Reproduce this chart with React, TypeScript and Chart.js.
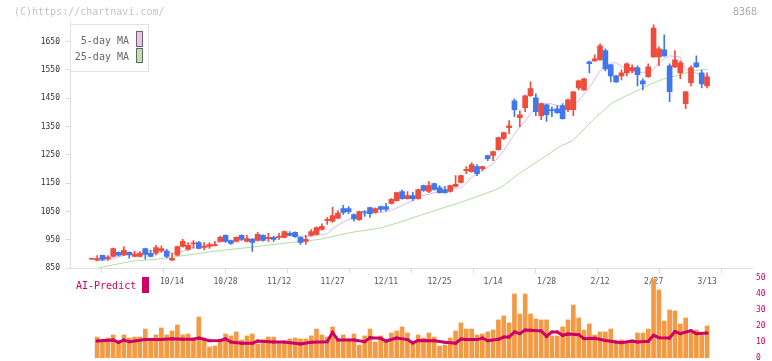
import React, { useEffect, useRef } from "react";
import { Chart, registerables } from "chart.js";
Chart.register(...registerables);

const dateLabels = ["10/14", "10/28", "11/12", "11/27", "12/11", "12/25", "1/14", "1/28", "2/12", "2/27", "3/13"];
const dateLabelIdx = [15, 25, 35, 45, 55, 65, 75, 85, 95, 105, 115];
const priceTicks = [850, 950, 1050, 1150, 1250, 1350, 1450, 1550, 1650];
const volTicks = [0, 10, 20, 30, 40, 50];

const openP = [
  882, 879, 896, 883, 892, 906, 897, 906, 892, 892, 920, 903, 903, 911, 911, 879, 896, 927, 917, 936,
  941, 924, 927, 930, 945, 966, 948, 945, 966, 945, 952, 948, 966, 955, 959, 959, 959, 973, 977, 959,
  945, 966, 970, 987, 1019, 1016, 1027, 1061, 1061, 1040, 1022, 1050, 1064, 1047, 1068, 1068, 1079, 1089, 1121, 1096,
  1107, 1096, 1142, 1121, 1149, 1135, 1128, 1121, 1139, 1153, 1195, 1191, 1209, 1202, 1248, 1248, 1269, 1308, 1346, 1441,
  1382, 1417, 1459, 1452, 1389, 1427, 1410, 1413, 1424, 1410, 1410, 1487, 1480, 1579, 1582, 1586, 1618, 1568, 1529, 1529,
  1540, 1547, 1558, 1512, 1526, 1596, 1596, 1621, 1565, 1561, 1540, 1431, 1505, 1575, 1540, 1494,
];
const highP = [
  882, 895, 897, 895, 921, 908, 927, 908, 911, 908, 921, 913, 931, 929, 917, 903, 928, 952, 941, 948,
  945, 941, 941, 945, 964, 968, 950, 961, 968, 966, 955, 977, 968, 973, 964, 973, 982, 980, 979, 961,
  966, 987, 996, 1007, 1029, 1066, 1054, 1072, 1068, 1042, 1052, 1054, 1066, 1063, 1070, 1079, 1097, 1119, 1126, 1121,
  1118, 1130, 1144, 1156, 1151, 1142, 1139, 1144, 1177, 1179, 1209, 1223, 1216, 1211, 1250, 1264, 1313, 1331, 1371, 1448,
  1406, 1461, 1508, 1466, 1433, 1429, 1420, 1424, 1431, 1447, 1475, 1514, 1521, 1581, 1603, 1642, 1625, 1570, 1531, 1550,
  1575, 1568, 1565, 1519, 1572, 1709, 1632, 1674, 1572, 1618, 1582, 1475, 1565, 1600, 1550, 1540,
];
const lowP = [
  882, 876, 877, 879, 890, 893, 895, 886, 890, 890, 882, 890, 897, 906, 887, 878, 895, 925, 913, 920,
  918, 915, 920, 928, 943, 941, 934, 943, 948, 943, 910, 946, 946, 945, 945, 952, 957, 964, 959, 934,
  934, 964, 968, 985, 1005, 1012, 1025, 1040, 1043, 1016, 1019, 1033, 1030, 1045, 1050, 1052, 1077, 1087, 1094, 1094,
  1089, 1094, 1121, 1117, 1126, 1115, 1115, 1119, 1137, 1151, 1184, 1189, 1177, 1195, 1230, 1230, 1267, 1304, 1325, 1385,
  1350, 1403, 1457, 1389, 1375, 1368, 1385, 1397, 1376, 1403, 1389, 1480, 1478, 1540, 1580, 1584, 1547, 1508, 1506, 1515,
  1529, 1540, 1494, 1480, 1524, 1594, 1565, 1598, 1438, 1558, 1519, 1413, 1494, 1559, 1487, 1487,
];
const closeP = [
  882, 884, 881, 890, 920, 896, 913, 897, 900, 903, 899, 892, 923, 920, 892, 885, 927, 945, 931, 940,
  920, 927, 934, 934, 959, 945, 938, 959, 952, 955, 941, 970, 948, 959, 952, 962, 980, 966, 962, 941,
  952, 980, 994, 998, 1022, 1036, 1045, 1047, 1050, 1024, 1050, 1047, 1043, 1061, 1058, 1058, 1093, 1117, 1096, 1107,
  1096, 1128, 1125, 1142, 1128, 1117, 1117, 1142, 1146, 1177, 1199, 1216, 1184, 1209, 1237, 1262, 1311, 1329, 1353, 1410,
  1392, 1459, 1484, 1403, 1431, 1392, 1406, 1399, 1378, 1445, 1473, 1512, 1519, 1572, 1589, 1635, 1554, 1529, 1508, 1540,
  1572, 1558, 1533, 1501, 1561, 1698, 1625, 1600, 1473, 1586, 1575, 1473, 1558, 1561, 1501, 1526,
];

const ma5Idx = [1, 3, 5, 7.5, 10, 13, 15, 17, 19, 22, 24, 26, 29, 31, 34, 36, 39, 41, 44, 45, 47, 49, 51, 54, 56, 58, 60, 61, 63, 65, 68, 69, 71, 73, 75, 77, 79, 81, 83, 84, 86, 88, 89, 91, 93, 95, 97, 98, 100, 101, 103, 105, 106, 108, 110, 111, 113, 115];
const ma5Val = [878, 878, 890, 904, 910, 916, 904, 910, 925, 931, 943, 946, 951, 958, 958, 966, 964, 963, 972, 990, 1013, 1031, 1043, 1047, 1054, 1072, 1089, 1104, 1111, 1123, 1133, 1134, 1171, 1195, 1219, 1265, 1324, 1371, 1418, 1433, 1430, 1419, 1412, 1441, 1488, 1547, 1575, 1575, 1552, 1547, 1541, 1550, 1579, 1600, 1595, 1551, 1538, 1530];

const ma25Idx = [1.3, 7.5, 12.1, 17.7, 22.7, 27.7, 32.7, 37.6, 42.6, 48.3, 53.9, 57.6, 61.4, 65.1, 68.8, 72.6, 76.3, 80, 83.8, 87.5, 89.9, 93.7, 97.4, 100.6, 103.7, 106.8, 109.9, 112.4, 115.2];
const ma25Val = [852, 875, 882, 896, 910, 920, 931, 942, 952, 976, 992, 1013, 1037, 1060, 1082, 1107, 1133, 1186, 1233, 1280, 1301, 1374, 1436, 1465, 1494, 1518, 1533, 1547, 1553];

const volume = [
  null, 13.1, 11.7, 12.5, 14.4, 10.8, 14.4, 12.5, 13.1, 13.1, 18.1, 11.3, 14.4, 18.8, 14.4, 16.9, 20.6, 14.4, 15.0, 12.5,
  25.6, 12.5, 6.9, 7.5, 11.3, 15.0, 13.8, 16.3, 11.3, 13.8, 15.0, 8.8, 11.3, 13.1, 13.1, 10.0, 10.0, 11.9, 12.5, 11.9,
  11.9, 13.8, 18.1, 14.4, 13.1, 19.4, 11.3, 14.4, 11.9, 15.0, 8.1, 13.8, 18.1, 10.0, 13.8, 10.0, 15.6, 16.9, 19.4, 15.6,
  9.5, 14.4, 12.5, 15.6, 13.1, 7.5, 8.1, 12.5, 16.9, 21.9, 18.1, 18.1, 14.4, 15.0, 16.3, 17.5, 23.8, 26.3, 21.9, 40.0,
  27.5, 40.0, 27.5, 24.4, 23.8, 23.8, 13.8, 13.8, 19.4, 23.8, 33.1, 25.0, 17.5, 21.3, 14.4, 16.3, 16.3, 18.1, 9.4, 11.3,
  10.0, 10.0, 15.6, 15.6, 18.1, 49.4, 42.5, 23.1, 30.0, 29.4, 21.3, 25.0, 16.3, 17.5, 14.4, 20.0,
];

const aiIdx = [1, 4, 5, 6, 7, 10, 13, 15, 17, 19, 20, 22, 24, 25, 26, 28, 30, 31, 34, 36, 39, 41, 44, 45, 46, 49, 51, 52, 54, 55, 57, 59, 60, 61, 64, 66, 68, 69, 70, 72, 73, 74, 76, 77, 78, 79, 80, 81, 82, 84, 85, 86, 87, 88, 89, 91, 92, 94, 96, 98, 99, 101, 102, 104, 105, 106, 108, 109, 110, 112, 113, 115];
const aiVal = [10.6, 11.2, 9.8, 11.2, 10.2, 11.5, 11.5, 12.1, 11.7, 11.7, 12.5, 10.8, 11.0, 11.9, 10.0, 9.2, 9.2, 10.6, 10.0, 10.0, 8.8, 9.8, 10.2, 16.0, 11.3, 11.3, 10.2, 12.7, 12.3, 10.6, 12.5, 11.5, 9.4, 11.0, 10.8, 9.8, 9.2, 11.9, 11.5, 11.5, 12.5, 10.8, 11.7, 13.1, 13.1, 16.3, 15.2, 17.5, 17.3, 16.9, 13.5, 16.3, 16.3, 14.2, 15.0, 14.6, 12.1, 12.3, 11.0, 10.0, 9.6, 10.6, 10.0, 10.4, 14.2, 12.7, 12.5, 16.5, 15.2, 17.1, 15.2, 15.6];

const UP = "#f04c3c";
const DOWN = "#4078ec";
const X_MIN = -4.075;
const X_MAX = 123.4;
const MONO = "'DejaVu Sans Mono', monospace";

export default function App() {
  const mainRef = useRef<HTMLCanvasElement | null>(null);
  const volRef = useRef<HTMLCanvasElement | null>(null);

  useEffect(() => {
    const candleColors = openP.map((o, i) => (closeP[i] >= o ? UP : DOWN));
    const gridTicks = Array.from({ length: 12 }, (_, k) => X_MIN + (k * (X_MAX - X_MIN)) / 11);

    const main = new Chart(mainRef.current!, {
      type: "bar",
      data: {
        datasets: [
          {
            type: "bar",
            data: openP.map((o, i) => ({ x: i, y: [o, closeP[i]] })) as any,
            backgroundColor: candleColors,
            barThickness: 5,
            grouped: false,
            minBarLength: 1,
            borderWidth: 0,
            order: 0,
          } as any,
          {
            type: "bar",
            data: lowP.map((l, i) => ({ x: i, y: [l, highP[i]] })) as any,
            backgroundColor: candleColors,
            barThickness: 1,
            grouped: false,
            minBarLength: 1,
            borderWidth: 0,
            order: 1,
          } as any,
          {
            type: "line",
            data: ma5Idx.map((x, k) => ({ x, y: ma5Val[k] })),
            borderColor: "#e8b4ec",
            borderWidth: 1,
            pointRadius: 0,
            tension: 0,
            order: 2,
          } as any,
          {
            type: "line",
            data: ma25Idx.map((x, k) => ({ x, y: ma25Val[k] })),
            borderColor: "#b4dca4",
            borderWidth: 1,
            pointRadius: 0,
            tension: 0,
            order: 3,
          } as any,
        ],
      },
      options: {
        animation: false,
        responsive: false,
        maintainAspectRatio: false,
        layout: { padding: { top: 21.8, right: 20, left: 0, bottom: 0 } },
        plugins: { legend: { display: false }, tooltip: { enabled: false } },
        scales: {
          x: {
            type: "linear",
            min: X_MIN,
            max: X_MAX,
            offset: false,
            position: "bottom",
            weight: 0,
            afterBuildTicks: (s: any) => {
              s.ticks = gridTicks.map((v) => ({ value: v }));
            },
            afterFit: (s: any) => {
              s.height = 6;
            },
            ticks: { display: false },
            grid: { drawOnChartArea: false, tickLength: 5, color: "#dddddd" },
            border: { color: "#dddddd" },
          },
          xl: {
            type: "linear",
            min: X_MIN,
            max: X_MAX,
            offset: false,
            position: "bottom",
            weight: 1,
            afterBuildTicks: (s: any) => {
              s.ticks = dateLabelIdx.map((v) => ({ value: v }));
            },
            afterFit: (s: any) => {
              s.height = 25.7;
            },
            ticks: {
              autoSkip: false,
              maxRotation: 0,
              padding: 3,
              color: "#555555",
              font: { family: MONO, size: 8 },
              callback: (_v: any, i: number) => dateLabels[i],
            },
            grid: { display: false, drawTicks: false },
            border: { display: false },
          },
          y: {
            type: "linear",
            min: 850,
            max: 1720,
            afterBuildTicks: (s: any) => {
              s.ticks = priceTicks.map((v) => ({ value: v }));
            },
            afterFit: (s: any) => {
              s.width = 70;
            },
            ticks: {
              padding: 5,
              color: "#333333",
              font: { family: MONO, size: 8 },
              callback: (v: any) => String(v),
            },
            grid: { drawOnChartArea: false, tickLength: 5, color: "#dddddd" },
            border: { color: "#dddddd" },
          },
        },
      } as any,
    });

    const vol = new Chart(volRef.current!, {
      type: "bar",
      data: {
        datasets: [
          {
            type: "line",
            data: aiIdx.map((x, k) => ({ x, y: aiVal[k] })),
            borderColor: "#cc0066",
            borderWidth: 3,
            pointStyle: "rect",
            pointRadius: 2,
            pointBackgroundColor: "#cc0066",
            pointBorderWidth: 0,
            tension: 0,
            order: 0,
          } as any,
          {
            type: "bar",
            data: volume
              .map((v, i) => ({ x: i, y: v }))
              .filter((p) => p.y !== null) as any,
            backgroundColor: "#f29a44",
            barThickness: 4,
            borderWidth: 0,
            order: 1,
          } as any,
        ],
      },
      options: {
        animation: false,
        responsive: false,
        maintainAspectRatio: false,
        layout: { padding: { top: 10, right: 0, left: 70, bottom: 20 } },
        plugins: { legend: { display: false }, tooltip: { enabled: false } },
        scales: {
          x: { type: "linear", min: X_MIN, max: X_MAX, offset: false, display: false },
          y: {
            type: "linear",
            position: "right",
            min: 0,
            max: 50,
            afterBuildTicks: (s: any) => {
              s.ticks = volTicks.map((v) => ({ value: v }));
            },
            afterFit: (s: any) => {
              s.width = 20;
            },
            ticks: { padding: 4, color: "#cc0066", font: { family: MONO, size: 8 } },
            grid: { display: false, drawTicks: false },
            border: { display: false },
          },
        },
      } as any,
    });

    return () => {
      main.destroy();
      vol.destroy();
    };
  }, []);

  const txt: React.CSSProperties = {
    position: "absolute",
    fontFamily: MONO,
    fontSize: 10,
    lineHeight: "12px",
    whiteSpace: "nowrap",
  };

  return (
    <div style={{ position: "absolute", left: 0, top: 0, width: 772, height: 361, overflow: "hidden", background: "#ffffff" }}>
      <canvas ref={mainRef} width={772} height={300} style={{ position: "absolute", left: 0, top: 0 }} />
      <canvas ref={volRef} width={772} height={110} style={{ position: "absolute", left: 0, top: 268 }} />
      <div style={{ ...txt, left: 14, top: 6, color: "#c4c4c4" }}>(C)https://chartnavi.com/</div>
      <div style={{ ...txt, left: 657, width: 100, top: 6, textAlign: "right", color: "#aaaaaa" }}>8368</div>
      <div style={{ position: "absolute", left: 70, top: 24, width: 79, height: 48, boxSizing: "border-box", border: "1px solid #e2e2e2", background: "#ffffff" }} />
      <div style={{ ...txt, left: 0, width: 129, top: 35.3, textAlign: "right", color: "#666666" }}>5-day MA</div>
      <div style={{ ...txt, left: 0, width: 129, top: 51.3, textAlign: "right", color: "#666666" }}>25-day MA</div>
      <div style={{ position: "absolute", left: 136, top: 31, width: 7, height: 16, boxSizing: "border-box", border: "1px solid #666666", background: "#f0c0f0" }} />
      <div style={{ position: "absolute", left: 136, top: 48, width: 7, height: 15, boxSizing: "border-box", border: "1px solid #666666", background: "#c0e0b0" }} />
      <div style={{ ...txt, left: 76, top: 280, color: "#cc0066" }}>AI-Predict</div>
      <div style={{ position: "absolute", left: 142, top: 277, width: 7, height: 16, background: "#cc0066" }} />
    </div>
  );
}
